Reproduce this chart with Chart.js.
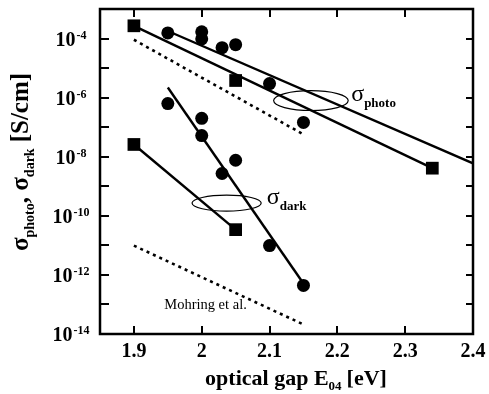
<!DOCTYPE html>
<html>
<head>
<meta charset="utf-8">
<script src="https://cdn.jsdelivr.net/npm/chart.js@4.4.0/dist/chart.umd.min.js"></script>
<style>
  html, body { margin: 0; padding: 0; background: #fff; }
  #wrap { width: 489px; height: 394px; }
</style>
</head>
<body>
<div id="wrap"><canvas id="c" width="489" height="394"></canvas></div>
<script>
// photoconductivity vs optical gap
const photoSquaresX = [1.9, 2.05, 2.34];
const photoSquaresY = [2.7e-4, 3.8e-6, 4.1e-9];
const photoCirclesX = [1.95, 2.0, 2.0, 2.03, 2.05, 2.1, 2.15];
const photoCirclesY = [1.55e-4, 1.7e-4, 9.8e-5, 4.9e-5, 6.2e-5, 3.0e-6, 1.45e-7];
// dark conductivity vs optical gap
const darkSquaresX = [1.9, 2.05];
const darkSquaresY = [2.6e-8, 3.4e-11];
const darkCirclesX = [1.95, 2.0, 2.0, 2.03, 2.05, 2.1, 2.15];
const darkCirclesY = [6.3e-7, 2.0e-7, 5.2e-8, 2.7e-9, 7.6e-9, 9.8e-12, 4.4e-13];
// fitted trend lines (end points)
const photoSquareFitX = [1.9, 2.34];
const photoSquareFitY = [2.7e-4, 4.1e-9];
const photoCircleFitX = [1.95, 2.4];
const photoCircleFitY = [1.8e-4, 6.0e-9];
const darkSquareFitX = [1.9, 2.05];
const darkSquareFitY = [2.6e-8, 3.4e-11];
const darkCircleFitX = [1.95, 2.15];
const darkCircleFitY = [2.2e-6, 5.1e-13];
// reference data (Mohring et al.)
const refPhotoX = [1.9, 2.15];
const refPhotoY = [9.1e-5, 5.7e-8];
const refDarkX = [1.9, 2.15];
const refDarkY = [9.8e-12, 2.1e-14];
// axis ticks
const xTickValues = [1.9, 2.0, 2.1, 2.2, 2.3, 2.4];
const xTickLabels = ['1.9', '2', '2.1', '2.2', '2.3', '2.4'];
const yTickExponents = [-4, -6, -8, -10, -12, -14];
const yMinorExponents = [-3, -5, -7, -9, -11, -13];

const pts = (xs, ys) => xs.map((x, i) => ({ x: x, y: ys[i] }));

const SERIF = '"Liberation Serif", "Times New Roman", serif';

function lineSet(xs, ys, dashed) {
  return {
    data: pts(xs, ys), showLine: true, pointRadius: 0,
    borderColor: '#000', borderWidth: dashed ? 2.6 : 2.4,
    borderDash: dashed ? [3, 4] : [], fill: false
  };
}
function markerSet(xs, ys, style) {
  return {
    data: pts(xs, ys), showLine: false,
    pointStyle: style, pointRadius: style === 'rect' ? 9 : 6.5,
    backgroundColor: '#000', borderColor: '#000', borderWidth: 0
  };
}

// draws a run of text pieces with their own fonts and baseline shifts
function drawRuns(ctx, runs, x, y) {
  let cx = x;
  runs.forEach(r => {
    ctx.font = r.font;
    ctx.fillText(r.text, cx, y + (r.dy || 0));
    cx += ctx.measureText(r.text).width + (r.gap || 0);
  });
  return cx - x;
}
function runsWidth(ctx, runs) {
  let w = 0;
  runs.forEach(r => { ctx.font = r.font; w += ctx.measureText(r.text).width + (r.gap || 0); });
  return w;
}

const framePlugin = {
  id: 'frame',
  afterDraw(chart) {
    const ctx = chart.ctx;
    const a = chart.chartArea;
    const xs = chart.scales.x, ys = chart.scales.y;
    ctx.save();
    ctx.strokeStyle = '#000';
    ctx.fillStyle = '#000';

    // frame
    ctx.lineWidth = 2.5;
    ctx.strokeRect(a.left, a.top, a.right - a.left, a.bottom - a.top);

    // inward ticks
    ctx.lineWidth = 2;
    ctx.beginPath();
    xTickValues.forEach(v => {
      const px = Math.round(xs.getPixelForValue(v));
      ctx.moveTo(px, a.bottom); ctx.lineTo(px, a.bottom - 8);
      ctx.moveTo(px, a.top); ctx.lineTo(px, a.top + 8);
    });
    yTickExponents.concat(yMinorExponents).forEach(e => {
      const py = Math.round(ys.getPixelForValue(Math.pow(10, e)));
      ctx.moveTo(a.left, py); ctx.lineTo(a.left + 9, py);
      ctx.moveTo(a.right, py); ctx.lineTo(a.right - 7, py);
    });
    ctx.stroke();

    // x tick labels
    ctx.font = 'bold 20px ' + SERIF;
    ctx.textAlign = 'center';
    ctx.textBaseline = 'alphabetic';
    xTickValues.forEach((v, i) => {
      ctx.fillText(xTickLabels[i], xs.getPixelForValue(v), a.bottom + 23);
    });

    // y tick labels: 10 with superscript exponent, centred in the margin
    ctx.textAlign = 'left';
    yTickExponents.forEach(e => {
      const py = ys.getPixelForValue(Math.pow(10, e));
      const runs = [
        { text: '10', font: 'bold 20px ' + SERIF, gap: 1 },
        { text: '-' + Math.abs(e), font: 'bold 12px ' + SERIF, dy: -7 }
      ];
      const w = runsWidth(ctx, runs);
      drawRuns(ctx, runs, 71 - w / 2, py + 7);
    });

    // x axis title
    const xt = [
      { text: 'optical gap E', font: 'bold 22px ' + SERIF },
      { text: '04', font: 'bold 13px ' + SERIF, dy: 5, gap: 5 },
      { text: '[eV]', font: 'bold 22px ' + SERIF }
    ];
    const xw = runsWidth(ctx, xt);
    drawRuns(ctx, xt, 296 - xw / 2, 385);

    // y axis title (rotated)
    const yt = [
      { text: '\u03c3', font: 'bold 25px ' + SERIF },
      { text: 'photo', font: 'bold 14px ' + SERIF, dy: 6 },
      { text: ', \u03c3', font: 'bold 25px ' + SERIF },
      { text: 'dark', font: 'bold 14px ' + SERIF, dy: 6, gap: 6 },
      { text: '[S/cm]', font: 'bold 25px ' + SERIF }
    ];
    const yw = runsWidth(ctx, yt);
    ctx.save();
    ctx.translate(28, 162);
    ctx.rotate(-Math.PI / 2);
    drawRuns(ctx, yt, -yw / 2, 0);
    ctx.restore();

    // ellipses grouping the photo and dark data
    ctx.lineWidth = 1.2;
    [
      { x: 2.161, e: -6.10, w: 0.11, h: 0.67 },
      { x: 2.0367, e: -9.57, w: 0.102, h: 0.54 }
    ].forEach(el => {
      const cx = xs.getPixelForValue(el.x);
      const cy = ys.getPixelForValue(Math.pow(10, el.e));
      const rx = (xs.getPixelForValue(el.x + el.w / 2) - xs.getPixelForValue(el.x - el.w / 2)) / 2;
      const ry = (ys.getPixelForValue(Math.pow(10, el.e - el.h / 2)) - ys.getPixelForValue(Math.pow(10, el.e + el.h / 2))) / 2;
      ctx.beginPath();
      ctx.ellipse(cx, cy, rx, ry, 0, 0, Math.PI * 2);
      ctx.stroke();
    });

    // series labels
    drawRuns(ctx, [
      { text: '\u03c3', font: '24px ' + SERIF },
      { text: 'photo', font: 'bold 13px ' + SERIF, dy: 6 }
    ], xs.getPixelForValue(2.2204), ys.getPixelForValue(Math.pow(10, -6.10)));
    drawRuns(ctx, [
      { text: '\u03c3', font: '24px ' + SERIF },
      { text: 'dark', font: 'bold 13px ' + SERIF, dy: 6 }
    ], xs.getPixelForValue(2.0959), ys.getPixelForValue(Math.pow(10, -9.60)));

    ctx.font = '14.5px ' + SERIF;
    ctx.textAlign = 'center';
    ctx.textBaseline = 'middle';
    ctx.fillText('Mohring et al.', xs.getPixelForValue(2.0056), ys.getPixelForValue(Math.pow(10, -13.03)));

    ctx.restore();
  }
};

new Chart(document.getElementById('c'), {
  type: 'scatter',
  data: {
    datasets: [
      lineSet(refPhotoX, refPhotoY, true),
      lineSet(refDarkX, refDarkY, true),
      lineSet(photoSquareFitX, photoSquareFitY, false),
      lineSet(photoCircleFitX, photoCircleFitY, false),
      lineSet(darkSquareFitX, darkSquareFitY, false),
      lineSet(darkCircleFitX, darkCircleFitY, false),
      markerSet(photoSquaresX, photoSquaresY, 'rect'),
      markerSet(photoCirclesX, photoCirclesY, 'circle'),
      markerSet(darkSquaresX, darkSquaresY, 'rect'),
      markerSet(darkCirclesX, darkCirclesY, 'circle')
    ]
  },
  options: {
    responsive: false,
    devicePixelRatio: 1,
    animation: false,
    layout: { padding: { left: 100, right: 16, top: 7, bottom: 60 } },
    plugins: { legend: { display: false }, tooltip: { enabled: false } },
    scales: {
      x: { type: 'linear', min: 1.85, max: 2.4, display: false },
      y: { type: 'logarithmic', min: 1e-14, max: 1e-3, display: false }
    }
  },
  plugins: [framePlugin]
});
</script>
</body>
</html>
